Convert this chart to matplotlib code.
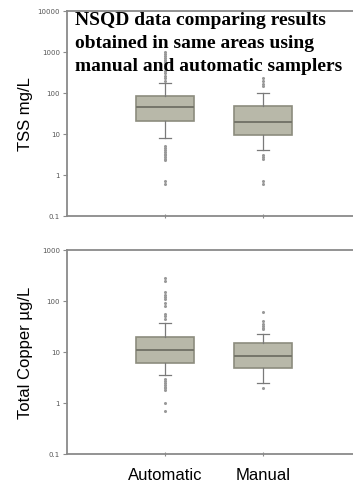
import matplotlib
matplotlib.use('Agg')
import matplotlib.pyplot as plt
from matplotlib.ticker import FixedLocator, FixedFormatter, NullLocator

groups = ['Automatic', 'Manual']

# TSS mg/L box statistics
tss_med = [45, 20]
tss_q1 = [21, 9.5]
tss_q3 = [85, 48]
tss_lo = [8, 4]
tss_hi = [175, 100]
tss_fliers = [
    [200, 230, 260, 300, 350, 400, 450, 500, 560, 620, 700, 800, 900, 1000,
     5, 4.5, 4, 3.6, 3.2, 3, 2.7, 2.5, 2.3, 0.7, 0.6],
    [150, 170, 200, 230, 3, 2.7, 2.4, 0.72, 0.6],
]

# Total copper ug/L box statistics
cu_med = [11, 8.3]
cu_q1 = [6, 4.9]
cu_q3 = [20, 15]
cu_lo = [3.5, 2.45]
cu_hi = [37, 23]
cu_fliers = [
    [45, 50, 55, 80, 90, 110, 120, 130, 150, 250, 280,
     3, 2.7, 2.5, 2.3, 2.1, 2.0, 1.8, 1.0, 0.7],
    [28, 30, 33, 36, 40, 60, 2.0],
]

tss_ticks = [0.1, 1, 10, 100, 1000, 10000]
tss_labels = ['0.1', '1', '10', '100', '1000', '10000']
cu_ticks = [0.1, 1, 10, 100, 1000]
cu_labels = ['0.1', '1', '10', '100', '1000']

title_lines = ['NSQD data comparing results',
               'obtained in same areas using',
               'manual and automatic samplers']

box_face = '#b8b8a9'
box_edge = '#8c8c7e'
spine_col = '#8a8a8a'


def stats_list(med, q1, q3, lo, hi, fliers):
    out = []
    for i in range(len(med)):
        out.append(dict(med=med[i], q1=q1[i], q3=q3[i], whislo=lo[i],
                        whishi=hi[i], fliers=fliers[i], label=groups[i]))
    return out


def draw_panel(ax, stats, ticks, labels, ylabel, show_x):
    ax.bxp(stats, positions=[1, 2], widths=0.6, capwidths=0.13,
           patch_artist=True, showfliers=True,
           boxprops=dict(facecolor=box_face, edgecolor=box_edge, linewidth=1.2),
           medianprops=dict(color='#75756a', linewidth=1.4),
           whiskerprops=dict(color='#7a7a7a', linewidth=0.9),
           capprops=dict(color='#7a7a7a', linewidth=0.9),
           flierprops=dict(marker='o', markersize=1.2, markerfacecolor='#999999',
                           markeredgecolor='#999999', linestyle='none'))
    ax.set_yscale('log')
    ax.set_ylim(ticks[0], ticks[-1])
    ax.set_xlim(0, 2.92)
    ax.yaxis.set_major_locator(FixedLocator(ticks))
    ax.yaxis.set_major_formatter(FixedFormatter(labels))
    ax.yaxis.set_minor_locator(NullLocator())
    ax.tick_params(axis='y', labelsize=5, colors=spine_col, labelcolor='#555555',
                   length=3, width=0.8, pad=2)
    ax.tick_params(axis='x', direction='inout', length=3, width=0.8,
                   colors=spine_col, labelcolor='black', labelsize=12, pad=8)
    ax.set_xticks([1, 2])
    if show_x:
        ax.set_xticklabels(groups, family='Liberation Sans')
    else:
        ax.set_xticklabels(['', ''])
    for side in ['left', 'bottom', 'top']:
        ax.spines[side].set_color(spine_col)
        ax.spines[side].set_linewidth(1.3)
    ax.spines['right'].set_visible(False)
    ax.set_ylabel(ylabel, fontsize=12, family='Liberation Sans')
    ax.yaxis.set_label_coords(-0.118, 0.5)


fig = plt.figure(figsize=(3.53, 4.85), dpi=100)
ax1 = fig.add_axes([0.19, 0.5526, 0.81, 0.4227])
ax2 = fig.add_axes([0.19, 0.0619, 0.81, 0.4206])

draw_panel(ax1, stats_list(tss_med, tss_q1, tss_q3, tss_lo, tss_hi, tss_fliers),
           tss_ticks, tss_labels, 'TSS mg/L', False)
draw_panel(ax2, stats_list(cu_med, cu_q1, cu_q3, cu_lo, cu_hi, cu_fliers),
           cu_ticks, cu_labels, 'Total Copper \u00b5g/L', True)

fig.text(75 / 353, 1 - 12 / 485, '\n'.join(title_lines), family='Liberation Serif',
         fontweight='bold', fontsize=14, va='top', ha='left', linespacing=1.45)

fig.savefig('out.png', dpi=100)
